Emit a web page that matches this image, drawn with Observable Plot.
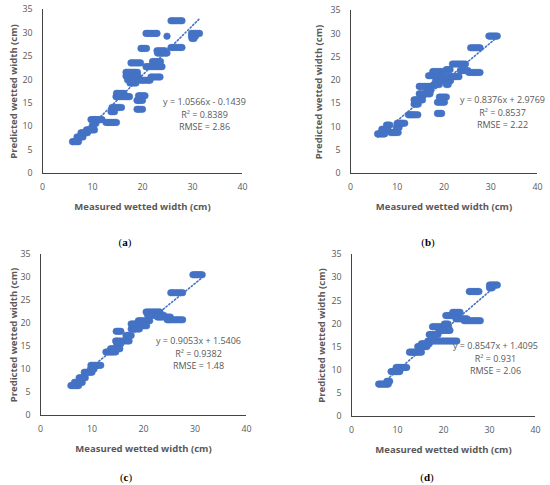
<!DOCTYPE html>
<html>
<head>
<meta charset="utf-8">
<script src="https://cdn.jsdelivr.net/npm/d3@7"></script>
<script src="https://cdn.jsdelivr.net/npm/@observablehq/plot@0.6"></script>
<style>
  body { margin: 0; background: #fff; }
  #fig { position: relative; width: 550px; height: 485px; overflow: hidden; background: #fff; }
  .panel { position: absolute; }
  .cap { position: absolute; font-family: "Liberation Serif", serif; font-size: 11px; color: #000; transform: translate(-50%, -50%); white-space: nowrap; }
</style>
</head>
<body>
<div id="fig"></div>
<script>
// ---- Data ----
const xTicks = [0, 10, 20, 30, 40];
const yTicks = [0, 5, 10, 15, 20, 25, 30, 35];
const panelLabels = ["a", "b", "c", "d"];
const slopes = [1.0566, 0.8376, 0.9053, 0.8547];
const intercepts = [-0.1439, 2.9769, 1.5406, 1.4095];
const eqTexts = ["y = 1.0566x - 0.1439", "y = 0.8376x + 2.9769", "y = 0.9053x + 1.5406", "y = 0.8547x + 1.4095"];
const r2Texts = ["R² = 0.8389", "R² = 0.8537", "R² = 0.9382", "R² = 0.931"];
const rmseTexts = ["RMSE = 2.86", "RMSE = 2.22", "RMSE = 1.48", "RMSE = 2.06"];
const xTitle = "Measured wetted width (cm)";
const yTitle = "Predicted wetted width (cm)";

// rows: [predicted y, measured x values...]
const panelAData = [
  [6.8, 6.0, 6.3, 6.6, 6.9, 7.2],
  [7.8, 6.9, 7.2, 7.5, 7.8, 8.1],
  [8.7, 7.7, 8.0, 8.3, 8.6, 9.0],
  [9.3, 8.8, 9.1, 9.4, 9.7, 10.0, 10.4],
  [10.0, 9.9, 10.2],
  [10.7, 10.1, 10.4, 10.7],
  [11.5, 9.7, 10.0, 10.3, 10.6, 10.9, 11.2, 11.6, 11.9],
  [10.9, 12.7, 13.0, 13.3, 13.6, 13.9, 14.2, 14.5, 14.8],
  [13.2, 13.7, 14.0, 14.4],
  [14.1, 13.9, 14.2, 14.6, 15.0, 15.4, 15.8],
  [16.4, 14.7, 15.0, 15.4, 15.8, 16.2, 16.6, 17.0, 17.4],
  [17.1, 14.8, 15.1, 15.5, 15.9, 16.3],
  [13.7, 18.9, 19.2, 19.6, 20.0],
  [15.6, 18.9, 19.2, 19.6, 20.0],
  [16.6, 19.2, 19.5, 19.8, 20.2, 20.5],
  [21.6, 16.7, 17.0, 17.4, 17.8, 18.2, 18.6, 19.0],
  [20.8, 16.7, 17.1, 17.5, 17.9, 18.3, 18.7, 19.1],
  [20.0, 17.0, 17.3, 17.7, 18.1, 18.5, 19.0, 19.4],
  [19.3, 17.5, 17.9, 18.3, 18.7],
  [19.9, 19.7, 20.0, 20.4, 20.8, 21.2, 21.5],
  [20.6, 21.7, 22.0, 22.4, 22.8, 23.2, 23.5],
  [23.6, 17.7, 18.0, 18.4, 18.8, 19.2, 19.6],
  [22.8, 20.7, 21.1, 21.5, 21.9, 22.3, 22.7, 23.1, 23.5, 23.9],
  [23.9, 22.0, 22.4, 22.8, 23.2, 23.6],
  [26.7, 19.7, 20.0, 20.4, 20.8],
  [26.2, 22.9, 23.3, 23.7, 24.1, 24.5],
  [25.7, 23.0, 23.4, 23.8, 24.2, 24.6, 24.9],
  [29.9, 20.7, 21.0, 21.4, 21.8, 22.2, 22.6, 22.9],
  [29.3, 24.9],
  [32.6, 25.7, 26.0, 26.4, 26.8, 27.2, 27.6, 27.9],
  [26.9, 25.7, 26.0, 26.4, 26.8, 27.2, 27.6, 27.9],
  [29.9, 29.8, 30.2, 30.6, 31.0, 31.4],
  [29.3, 29.8, 30.2, 30.6],
  [28.8, 29.9, 30.3]
];
const panelBData = [
  [8.5, 5.8, 6.1, 6.4, 6.7, 7.0, 7.3],
  [9.5, 6.7, 7.0, 7.3, 7.6, 8.0],
  [10.4, 7.7, 8.0, 8.4],
  [8.8, 8.6, 8.9, 9.2, 9.5, 9.8, 10.2],
  [9.9, 9.8, 10.1, 10.4],
  [10.8, 10.0, 10.3, 10.6, 10.9, 11.2, 11.6],
  [12.6, 12.4, 12.7, 13.0, 13.3, 13.6, 14.0, 14.4],
  [14.9, 13.6, 13.9, 14.2, 14.5],
  [15.8, 13.6, 13.9, 14.2, 14.6, 15.0, 15.4],
  [17.1, 14.7, 15.0, 15.4, 15.8, 16.2, 16.6, 17.0],
  [18.7, 14.7, 15.0, 15.4, 15.8, 16.2, 16.6, 17.0, 17.4],
  [17.9, 16.4, 16.8, 17.2],
  [12.9, 18.6, 18.9, 19.2, 19.5],
  [15.3, 18.6, 18.9, 19.3, 19.7, 20.1],
  [16.4, 19.0, 19.3, 19.7, 20.1, 20.5],
  [21.0, 16.7, 17.0, 17.4, 17.8, 18.2, 18.6],
  [21.9, 17.6, 18.0, 18.4, 18.8, 19.2, 19.6],
  [19.9, 18.2, 18.6, 19.0, 19.4, 19.8, 20.2, 20.6, 21.0, 21.4],
  [19.1, 17.8, 18.2, 18.6, 19.0, 20.5, 20.9],
  [20.8, 19.6, 20.0, 20.4, 20.8, 21.2, 21.6, 22.0, 22.4, 22.8, 23.2],
  [22.3, 20.5, 20.9, 21.3],
  [23.5, 21.8, 22.2, 22.6, 23.0, 23.4, 23.8, 24.2, 24.6],
  [22.1, 23.5, 23.9, 24.3, 24.7, 25.1],
  [21.7, 25.3, 25.7, 26.1, 26.5, 26.9, 27.3, 27.7],
  [27.0, 25.7, 26.1, 26.5, 26.9, 27.3, 27.7],
  [29.5, 29.6, 29.9, 30.2, 30.5, 30.8, 31.1, 31.4]
];
const panelCData = [
  [6.5, 5.9, 6.2, 6.5, 6.8, 7.1, 7.4],
  [7.2, 6.6, 6.9, 7.2, 7.5, 7.8, 8.1],
  [8.2, 7.5, 7.8, 8.1, 8.4, 8.7],
  [9.4, 8.5, 8.8, 9.1, 9.4, 9.7, 10.0],
  [10.1, 9.7, 10.0, 10.4],
  [10.9, 9.8, 10.1, 10.4, 10.7, 11.0, 11.3, 11.7],
  [13.8, 12.7, 13.0, 13.3, 13.6, 13.9, 14.2, 14.6],
  [14.5, 13.6, 13.9, 14.2, 14.6, 15.0, 15.4],
  [18.3, 14.7, 15.0, 15.3, 15.6],
  [16.2, 14.6, 14.9, 15.3, 15.7, 16.1, 16.5, 16.9, 17.2],
  [15.6, 14.8, 15.2, 15.6],
  [17.4, 16.6, 16.9, 17.2, 17.6],
  [18.8, 17.6, 17.9, 18.2, 18.5, 18.9, 19.2],
  [19.9, 17.6, 17.9, 18.2, 18.5, 18.9, 19.2, 19.5, 19.9],
  [20.6, 19.0, 19.3, 19.6, 20.0, 20.4, 20.8, 21.2],
  [19.5, 19.2, 19.5, 19.8, 20.2, 20.6],
  [22.5, 20.5, 20.8, 21.1, 21.4, 21.7, 22.0, 22.3, 22.6, 22.9, 23.2],
  [21.8, 20.8, 21.1, 21.5, 21.9, 22.3, 22.7, 23.1, 23.5, 23.9],
  [21.4, 22.7, 23.0, 23.3, 23.6, 24.0, 24.4, 24.8, 25.2],
  [20.8, 24.6, 24.9, 25.2, 25.6, 26.0, 26.4, 26.8, 27.2, 27.6],
  [26.7, 25.3, 25.6, 26.0, 26.4, 26.8, 27.2, 27.6],
  [30.6, 29.6, 29.9, 30.2, 30.5, 30.8, 31.1, 31.4]
];
const panelDData = [
  [7.0, 5.9, 6.2, 6.5, 6.8, 7.1, 7.4, 7.7, 8.0],
  [7.6, 7.7, 8.0, 8.3],
  [9.7, 8.6, 8.9, 9.2, 9.5, 9.8, 10.1, 10.5],
  [10.6, 9.7, 10.0, 10.3, 10.6, 10.9, 11.3, 11.7, 12.0],
  [13.9, 12.6, 12.9, 13.2, 13.5, 13.8, 14.1, 14.4, 14.8, 15.2],
  [15.1, 14.4, 14.7, 15.0, 15.3, 15.6, 16.0, 16.4],
  [15.7, 15.2, 15.5, 15.8, 16.1, 16.5, 16.9],
  [16.3, 16.6, 16.9, 17.3, 17.7, 18.1, 18.5, 18.9, 19.3, 19.7, 20.1, 20.5, 20.9, 21.3, 21.7, 22.1, 22.5, 22.9],
  [17.7, 16.9, 17.2, 17.6, 18.0, 18.4, 18.8],
  [19.4, 17.6, 17.9, 18.3, 18.7, 19.1, 19.5, 19.9, 20.3, 20.7, 21.1],
  [18.6, 19.0, 19.4, 19.8, 20.2, 20.6, 21.0, 21.4],
  [20.0, 20.2, 20.6, 21.0],
  [21.8, 20.5, 20.9, 21.3, 21.7, 22.1, 22.5, 22.9, 23.3],
  [22.5, 22.0, 22.4, 22.8, 23.2, 23.6],
  [21.1, 22.7, 23.1, 23.5, 23.9, 24.3, 24.7, 25.1],
  [20.7, 24.5, 24.9, 25.3, 25.7, 26.1, 26.5, 26.9, 27.3, 27.7, 28.0],
  [27.0, 25.6, 25.9, 26.2, 26.5, 26.8, 27.1, 27.4, 27.7],
  [28.4, 30.0, 30.3, 30.6, 30.9, 31.2, 31.5, 31.7],
  [27.8, 30.0, 30.3, 30.6]
];
const panelData = [panelAData, panelBData, panelCData, panelDData];

// ---- Layout (positions / styles only) ----
const layouts = [
  {left: 0,   top: 0,   ml: 42, mr: 33, mt: 9,  mb: 62, eqDx: 162, eqDy: 93, capX: 125, capY: 242, yTitleDx: -29},
  {left: 275, top: 0,   ml: 75, mr: 13, mt: 10, mb: 62, eqDx: 152, eqDy: 90, capX: 428, capY: 242, yTitleDx: -32},
  {left: 0,   top: 240, ml: 40, mr: 29, mt: 14, mb: 60, eqDx: 158, eqDy: 87, capX: 126, capY: 477, yTitleDx: -27},
  {left: 275, top: 240, ml: 76, mr: 15, mt: 14, mb: 59, eqDx: 144, eqDy: 92, capX: 427, capY: 477, yTitleDx: -30}
];
const W = 275, H = 235;
const blue = "#4472C4", grey = "#595959";
const font = "'Open Sans', Lato, sans-serif";

const fig = document.getElementById("fig");

panelData.forEach((rows, i) => {
  const L = layouts[i];
  const pts = rows.flatMap(([y, ...xs]) => xs.map(x => ({x, y})));
  const ext = d3.extent(pts, d => d.x);
  const trend = ext.map(x => ({x, y: slopes[i] * x + intercepts[i]}));
  const eqLines = [eqTexts[i], r2Texts[i], rmseTexts[i]];

  const chart = Plot.plot({
    width: W, height: H,
    marginLeft: L.ml, marginRight: L.mr, marginTop: L.mt, marginBottom: L.mb,
    x: {domain: [0, 40], ticks: xTicks},
    y: {domain: [0, 35], ticks: yTicks},
    style: {fontFamily: font, fontSize: "9px", color: grey, background: "transparent", overflow: "visible"},
    marks: [
      Plot.axisX({ticks: xTicks, tickSize: 0, tickPadding: 10, label: null, fill: grey, fontSize: 8.8}),
      Plot.axisY({ticks: yTicks, tickSize: 0, tickPadding: 10, label: null, fill: grey, fontSize: 8.8}),
      Plot.ruleX([0], {stroke: "#444", strokeWidth: 1}),
      Plot.ruleY([0], {stroke: "#444", strokeWidth: 1}),
      Plot.dot(pts, {x: "x", y: "y", r: 3.3, fill: blue, stroke: blue, strokeWidth: 0.5}),
      Plot.line(trend, {x: "x", y: "y", stroke: blue, strokeWidth: 1.6, strokeDasharray: "1.4,2.2"}),
      ...eqLines.map((t, k) => Plot.text([t], {
        frameAnchor: "top-left", dx: L.eqDx, dy: L.eqDy + k * 12.5,
        textAnchor: "middle", lineAnchor: "middle", fill: grey, fontSize: 9, fontFamily: font
      })),
      Plot.text([xTitle], {frameAnchor: "bottom", dy: 33, textAnchor: "middle", lineAnchor: "middle", fontWeight: "bold", fill: grey, fontSize: 9.5, fontFamily: font}),
      Plot.text([yTitle], {frameAnchor: "left", dx: L.yTitleDx, rotate: -90, textAnchor: "middle", lineAnchor: "middle", fontWeight: "bold", fill: grey, fontSize: 9.5, fontFamily: font})
    ]
  });
  chart.classList.add("panel");
  chart.style.left = L.left + "px";
  chart.style.top = L.top + "px";
  fig.appendChild(chart);

  const cap = document.createElement("div");
  cap.className = "cap";
  cap.style.left = L.capX + "px";
  cap.style.top = L.capY + "px";
  cap.innerHTML = "(<b>" + panelLabels[i] + "</b>)";
  fig.appendChild(cap);
});
</script>
</body>
</html>
